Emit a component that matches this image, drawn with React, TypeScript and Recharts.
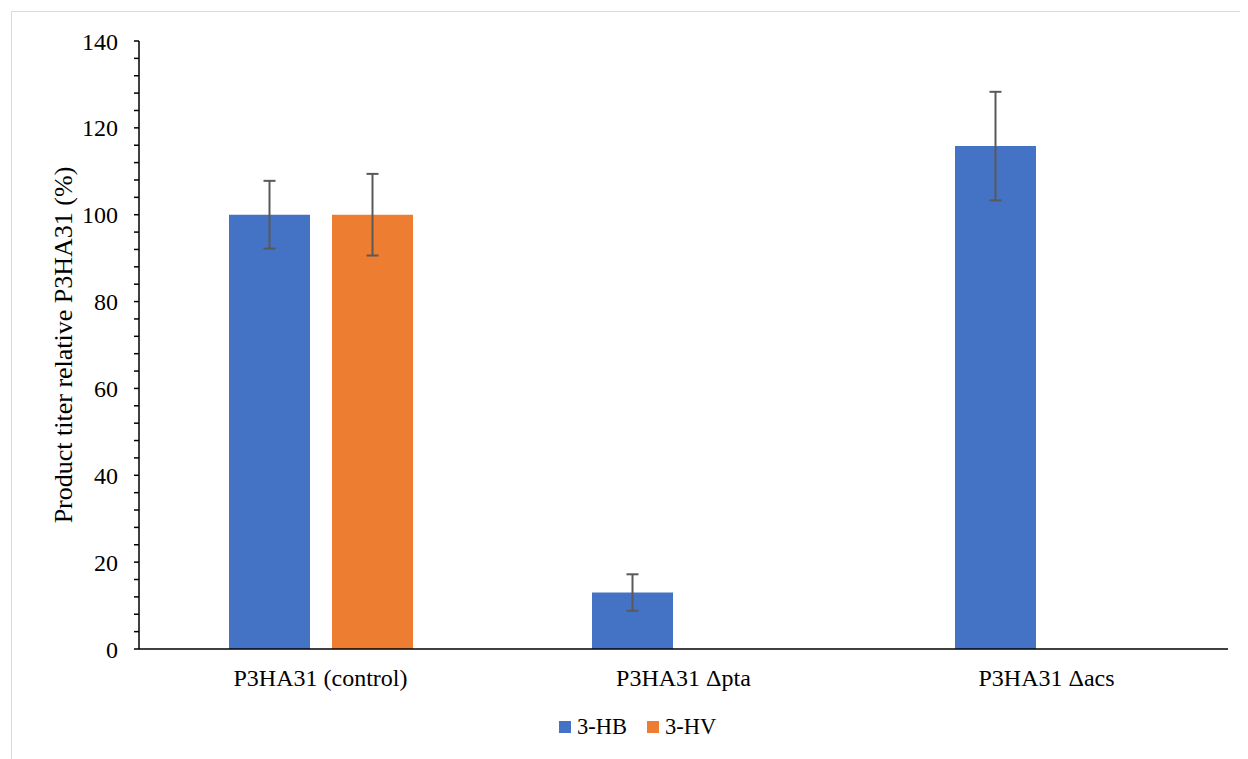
import { BarChart, Bar, XAxis, YAxis, ErrorBar, Legend } from 'recharts'

const categories = ['P3HA31 (control)', 'P3HA31 Δpta', 'P3HA31 Δacs']
const hbValues = [100, 13, 115.8]
const hbErrors = [7.8, 4.2, 12.5]
const hvValues = [100, 0, 0]
const hvErrors = [9.4, 0, 0]
const yTicks = [0, 4, 8, 12, 16, 20, 24, 28, 32, 36, 40, 44, 48, 52, 56, 60, 64, 68, 72, 76, 80, 84, 88, 92, 96, 100, 104, 108, 112, 116, 120, 124, 128, 132, 136, 140]
const series = [
  { name: '3-HB', color: '#4472C4' },
  { name: '3-HV', color: '#ED7D31' },
]

const data = categories.map((c, i) => ({
  name: c,
  '3-HB': hbValues[i],
  hbErr: hbErrors[i],
  '3-HV': hvValues[i],
  hvErr: hvErrors[i],
}))

const font = '"Liberation Serif", "Times New Roman", serif'

function LegendContent() {
  return (
    <div style={{ display: 'flex', alignItems: 'center', paddingLeft: 559, fontFamily: font, fontSize: 22.5, color: '#000' }}>
      {series.map(s => (
        <div key={s.name} style={{ display: 'flex', alignItems: 'center', marginRight: 20 }}>
          <span style={{ width: 12, height: 12, background: s.color, display: 'inline-block', marginRight: 6 }} />
          <span>{s.name}</span>
        </div>
      ))}
    </div>
  )
}

export default function App() {
  return (
    <div style={{ position: 'relative', width: 1248, height: 759, margin: '-8px 0 0 -8px', background: '#fff', overflow: 'hidden' }}>
      <div style={{ position: 'absolute', left: 11, top: 11, width: 1260, height: 780, border: '1px solid #d9d9d9' }} />
      <BarChart
        width={1248}
        height={759}
        data={data}
        margin={{ top: 41, right: 20, left: 0, bottom: 15 }}
        barSize={81}
        barGap={22}
      >
        <XAxis
          dataKey="name"
          height={65}
          tickLine={false}
          tickMargin={14}
          axisLine={{ stroke: '#000', strokeWidth: 1.5 }}
          tick={{ fill: '#000', fontSize: 24, fontFamily: font }}
        />
        <YAxis
          width={139}
          domain={[0, 140]}
          ticks={yTicks}
          interval={0}
          tickSize={5}
          tickMargin={16}
          tickFormatter={(v: number) => (v % 20 === 0 ? String(v) : '')}
          axisLine={{ stroke: '#000', strokeWidth: 1.5 }}
          tickLine={{ stroke: '#000', strokeWidth: 1.5 }}
          tick={{ fill: '#000', fontSize: 24, fontFamily: font }}
          label={{
            value: 'Product titer relative P3HA31 (%)',
            angle: -90,
            position: 'center',
            dx: -7,
            style: { textAnchor: 'middle', fill: '#000', fontSize: 26, fontFamily: font },
          }}
        />
        <Legend verticalAlign="bottom" height={30} content={<LegendContent />} />
        <Bar dataKey="3-HB" fill="#4472C4" isAnimationActive={false}>
          <ErrorBar dataKey="hbErr" width={6} stroke="#595959" strokeWidth={2} />
        </Bar>
        <Bar dataKey="3-HV" fill="#ED7D31" isAnimationActive={false}>
          <ErrorBar dataKey="hvErr" width={6} stroke="#595959" strokeWidth={2} />
        </Bar>
      </BarChart>
    </div>
  )
}
